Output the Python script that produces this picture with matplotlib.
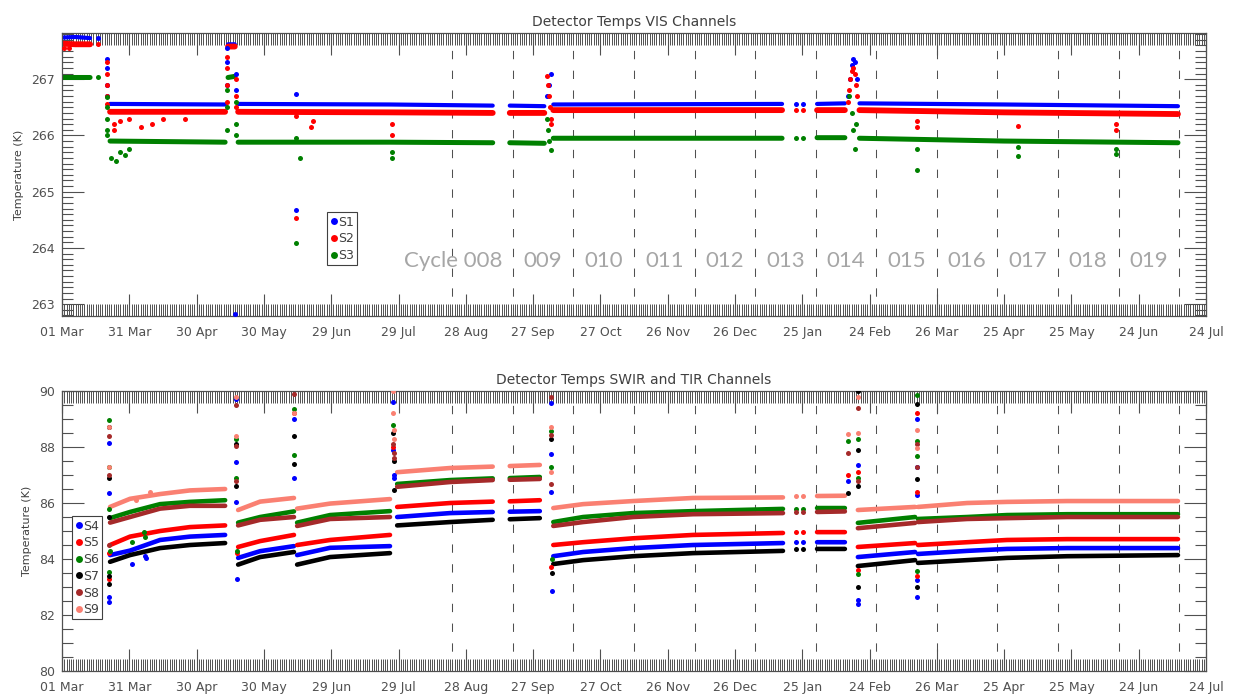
import numpy as np
import matplotlib
matplotlib.use('Agg')
import matplotlib.pyplot as plt
import matplotlib.dates as mdates
import matplotlib.ticker as mticker
from matplotlib.lines import Line2D

# days since 01 Mar 2016 ; NaN = data gap
START = np.datetime64('2016-03-01')
N = np.nan

# ---- VIS channels (K) ------------------------------------------------------
VIS_DAY = [0.4, 6, 12.5, N, 21.4, 72.7, N, 74, 77, N, 78.5, 146, 192, N, 199.6, 215, N,
           219, 321, N, 336.6, 349, N, 355.5, 420, 497.5]
S1_T = [267.74, 267.75, 267.73, N, 266.56, 266.55, N, 267.62, 267.62, N, 266.56, 266.55, 266.53, N,
        266.53, 266.52, N, 266.55, 266.56, N, 266.56, 266.57, N, 266.57, 266.55, 266.52]
S2_T = [267.63, 267.62, 267.62, N, 266.42, 266.42, N, 267.58, 267.58, N, 266.42, 266.41, 266.40, N,
        266.40, 266.40, N, 266.45, 266.45, N, 266.45, 266.45, N, 266.45, 266.41, 266.38]
S3_T = [267.03, 267.03, 267.03, N, 265.90, 265.88, N, 267.03, 267.05, N, 265.88, 265.88, 265.87, N,
        265.87, 265.86, N, 265.95, 265.95, N, 265.96, 265.96, N, 265.95, 265.90, 265.87]

# isolated points / transients
S1_SPK_DAY = [16, 20, 20, 20, 20, 73.5, 73.5, 73.5, 77.4, 77.6, 77, 104.3, 104.3, 216, 217, 218,
              327, 330.4, 350.5, 351.3, 352, 352.8, 353.5, 354.5]
S1_SPK_T = [267.74, 267.35, 267.2, 266.9, 266.7, 266.9, 267.3, 267.55, 267.1, 266.8, 262.82, 264.68,
            266.73, 266.7, 266.9, 267.1, 266.55, 266.55, 266.7, 267.0, 267.25, 267.35, 267.3, 267.0]
S2_SPK_DAY = [16, 1, 3, 20, 20, 20, 20, 20, 23, 23, 26, 30, 35, 40, 45, 55, 73.5, 73.5, 73.5, 73.5,
              77.6, 77.6, 77.6, 104.3, 104.3, 111, 112, 147, 147, 216, 216.5, 217, 217.5, 218, 218,
              327, 330.4, 350.5, 351, 351.5, 352, 352.8, 353.5, 354, 354.5, 381, 381, 426, 470, 470]
S2_SPK_T = [267.62, 267.55, 267.56, 267.3, 267.1, 266.9, 266.7, 266.55, 266.2, 266.1, 266.25, 266.3,
            266.15, 266.2, 266.3, 266.3, 266.6, 266.9, 267.2, 267.4, 267.0, 266.7, 266.5, 264.54,
            266.35, 266.15, 266.25, 266.0, 266.2, 267.05, 266.9, 266.7, 266.5, 266.3, 266.2,
            266.45, 266.45, 266.6, 266.8, 267.0, 267.15, 267.2, 267.1, 266.9, 266.7, 266.15, 266.25,
            266.17, 266.1, 266.2]
S3_SPK_DAY = [16, 20, 20, 20, 20, 20, 22, 24, 26, 28, 30, 73.5, 73.5, 73.5, 77.6, 77.6, 77.6,
              104.3, 104.3, 106, 147, 147, 216, 216.5, 217, 218, 327, 330.4, 351, 352, 352.8, 353.5,
              354, 381, 381, 426, 426, 470, 470]
S3_SPK_T = [267.03, 266.68, 266.5, 266.3, 266.1, 266.0, 265.6, 265.55, 265.7, 265.65, 265.75, 266.1,
            266.5, 266.8, 266.6, 266.2, 266.0, 264.09, 265.95, 265.6, 265.6, 265.7, 266.3, 266.1,
            265.9, 265.74, 265.95, 265.95, 266.7, 266.4, 266.1, 265.76, 266.2, 265.75, 265.39,
            265.63, 265.8, 265.67, 265.75]

# ---- SWIR / TIR channels (K) ----------------------------------------------
IR_DAY = [21.4, 30.3, 43.7, 57, 72.7, N, 78.5, 88.3, 103.4, N, 104.8, 119.5, 146.2, N,
          149.4, 173, 192, N, 199.6, 213, N, 219, 232.3, 254.6, 281.3, 321.4, N, 336.6, 349, N,
          354.8, 380.3, N, 381.6, 403.5, 421.3, 448.1, 497.5]
S4_T = [84.14, 84.3, 84.68, 84.8, 84.86, N, 84.04, 84.28, 84.46, N, 84.14, 84.4, 84.46, N,
        85.5, 85.64, 85.68, N, 85.69, 85.71, N, 84.1, 84.25, 84.39, 84.5, 84.57, N, 84.6, 84.6, N,
        84.07, 84.25, N, 84.18, 84.29, 84.36, 84.39, 84.39]
S5_T = [84.5, 84.8, 85.0, 85.14, 85.2, N, 84.43, 84.64, 84.86, N, 84.5, 84.68, 84.86, N,
        85.86, 86.0, 86.05, N, 86.06, 86.1, N, 84.5, 84.6, 84.74, 84.86, 84.93, N, 84.96, 84.96, N,
        84.43, 84.57, N, 84.5, 84.6, 84.68, 84.71, 84.71]
S6_T = [85.46, 85.68, 85.96, 86.04, 86.1, N, 85.3, 85.5, 85.7, N, 85.3, 85.57, 85.71, N,
        86.68, 86.82, 86.88, N, 86.89, 86.93, N, 85.32, 85.5, 85.64, 85.71, 85.79, N, 85.82, 85.82, N,
        85.29, 85.5, N, 85.43, 85.5, 85.57, 85.6, 85.6]
S7_T = [83.9, 84.14, 84.39, 84.5, 84.57, N, 83.8, 84.07, 84.25, N, 83.8, 84.07, 84.21, N,
        85.2, 85.32, 85.4, N, 85.42, 85.46, N, 83.82, 83.96, 84.1, 84.21, 84.29, N, 84.36, 84.36, N,
        83.75, 83.96, N, 83.86, 83.96, 84.04, 84.1, 84.14]
S8_T = [85.3, 85.5, 85.8, 85.9, 85.9, N, 85.2, 85.4, 85.5, N, 85.18, 85.43, 85.5, N,
        86.58, 86.75, 86.82, N, 86.83, 86.86, N, 85.18, 85.32, 85.5, 85.6, 85.64, N, 85.68, 85.7, N,
        85.1, 85.29, N, 85.32, 85.43, 85.46, 85.5, 85.5]
S9_T = [85.86, 86.15, 86.32, 86.45, 86.5, N, 85.75, 86.05, 86.18, N, 85.8, 85.98, 86.14, N,
        87.1, 87.25, 87.3, N, 87.32, 87.36, N, 85.82, 85.96, 86.07, 86.18, 86.2, N, 86.25, 86.26, N,
        85.75, 85.86, N, 85.86, 86.0, 86.04, 86.07, 86.07]

S4_SPK_DAY = [21, 21, 21, 21, 31, 37, 37.5, 77.6, 77.6, 77.6, 77.8, 103.2, 103.5, 147.6, 147.6,
              147.8, 148, 218, 218, 218, 218.5, 327, 330.4, 350.4, 354.8, 354.8, 354.8, 381.2,
              381.2, 381.2, 381.2, 381.2]
S4_SPK_T = [88.14, 86.36, 82.64, 82.46, 83.82, 84.1, 84.05, 89.7, 87.46, 86.04, 83.3, 89.0, 86.9,
            89.6, 87.9, 87.0, 86.9, 89.56, 87.75, 86.4, 82.86, 84.6, 84.6, 86.8, 87.36, 82.54, 82.4,
            89.0, 87.29, 86.29, 83.25, 82.64]
S5_SPK_DAY = [21, 21, 77.8, 103.2, 147.6, 218, 327, 330.4, 350.4, 354.8, 354.8, 381.2, 381.2, 381.2]
S5_SPK_T = [83.3, 84.2, 84.2, 89.2, 88.0, 83.7, 84.95, 84.95, 87.0, 87.1, 83.6, 89.2, 86.4, 83.4]
S6_SPK_DAY = [21, 21, 21, 21, 21.2, 36.7, 36.9, 31, 77.6, 77.6, 77.8, 103.5, 103.5, 147.6, 218,
              218, 218.5, 327, 330.4, 350.4, 354.8, 354.8, 354.8, 381.2, 381.2, 381.2, 381.2]
S6_SPK_T = [88.96, 87.3, 85.8, 83.54, 84.3, 84.96, 84.8, 84.6, 88.3, 86.9, 84.3, 89.36, 87.7, 88.8,
            88.57, 87.29, 84.0, 85.8, 85.8, 88.2, 88.3, 86.9, 83.46, 89.86, 88.2, 87.68, 83.57]
S7_SPK_DAY = [21, 21, 21, 21, 21, 77.6, 77.6, 103.3, 103.5, 147.6, 147.8, 148, 218, 218.5, 327,
              330.4, 350.4, 354.8, 354.8, 354.8, 354.8, 381.2, 381.2, 381.2]
S7_SPK_T = [88.7, 86.9, 85.5, 83.1, 83.4, 88.1, 86.6, 88.4, 87.4, 88.5, 87.5, 86.46, 88.28, 83.5,
            84.36, 84.36, 86.36, 90.0, 87.9, 86.6, 83.0, 89.54, 86.86, 83.0]
S8_SPK_DAY = [21, 21, 21, 77.6, 77.6, 77.6, 103.2, 147.6, 147.8, 148, 218, 218, 218, 327, 330.4,
              350.4, 354.8, 354.8, 381.2, 381.2]
S8_SPK_T = [88.4, 87.0, 84.5, 89.5, 88.05, 86.8, 89.9, 88.1, 87.8, 87.6, 89.8, 88.43, 86.68, 85.68,
            85.68, 87.8, 89.4, 86.8, 88.1, 87.3]
S9_SPK_DAY = [21, 21, 33, 39, 77.6, 77.6, 103.2, 147.6, 147.6, 147.8, 148.2, 218, 218, 327, 330.4,
              350.4, 354.8, 354.8, 381.2, 381.2]
S9_SPK_T = [88.7, 87.3, 86.1, 86.4, 89.8, 88.4, 89.2, 90.0, 89.2, 88.6, 88.3, 88.7, 87.1, 86.25,
            86.25, 88.46, 89.8, 88.5, 88.6, 87.96]

# cycle boundaries (days) and labels
CYCLE_DAY = [174, 201, 228, 255, 282, 309, 336, 363, 390, 417, 444, 471, 498]
CYCLE_LAB = ['Cycle 008', '009', '010', '011', '012', '013', '014', '015', '016', '017',
             '018', '019']

COL = {'S1': '#0000ff', 'S2': '#ff0000', 'S3': '#008000', 'S4': '#0000ff', 'S5': '#ff0000',
       'S6': '#008000', 'S7': '#000000', 'S8': '#a52a2a', 'S9': '#fa8072'}
GREY = '#505050'

x0 = mdates.date2num(START)


def dnum(days):
    return x0 + np.asarray(days, dtype=float)


def style(ax, ylim, ymaj, ymin, title):
    ax.set_xlim(x0, x0 + 510)
    ax.set_ylim(*ylim)
    ax.xaxis.set_major_locator(mticker.FixedLocator(x0 + np.arange(0, 511, 30)))
    ax.xaxis.set_minor_locator(mticker.MultipleLocator(1))
    ax.xaxis.set_major_formatter(mdates.DateFormatter('%d %b'))
    ax.yaxis.set_major_locator(mticker.MultipleLocator(ymaj))
    ax.yaxis.set_minor_locator(mticker.MultipleLocator(ymin))
    ax.yaxis.set_major_formatter(mticker.FormatStrFormatter('%d'))
    ax.tick_params(which='both', direction='in', top=True, right=True, color=GREY,
                   labelcolor=GREY, labelsize=9, width=0.8)
    ax.tick_params(axis='x', which='major', length=16, pad=7)
    ax.tick_params(axis='x', which='minor', length=8.5, width=0.7)
    ax.tick_params(axis='y', which='major', length=16, pad=5)
    ax.tick_params(axis='y', which='minor', length=8)
    for s in ax.spines.values():
        s.set_color(GREY)
        s.set_linewidth(0.9)
    ax.set_title(title, fontsize=10, color='#404040', pad=5)
    ax.set_ylabel('Temperature (K)', fontsize=8, color='#404040', labelpad=5)
    for d in CYCLE_DAY:
        ax.axvline(dnum(d), color=GREY, lw=0.75, ls=(0, (8, 11)), zorder=1)


fig = plt.figure(figsize=(12.41, 6.97), dpi=100)
ax1 = fig.add_axes([0.0500, 0.5466, 0.9218, 0.4060])
ax2 = fig.add_axes([0.0500, 0.0373, 0.9218, 0.4017])

# top panel
style(ax1, (262.79, 267.82), 1, 0.1, 'Detector Temps VIS Channels')
for name, t, sd, st, lw in [('S1', S1_T, S1_SPK_DAY, S1_SPK_T, 3.0),
                            ('S2', S2_T, S2_SPK_DAY, S2_SPK_T, 4.2),
                            ('S3', S3_T, S3_SPK_DAY, S3_SPK_T, 3.6)]:
    ax1.plot(dnum(VIS_DAY), t, color=COL[name], lw=lw, solid_capstyle='round', zorder=2)
    ax1.plot(dnum(sd), st, 'o', ms=3.6, mec='none', color=COL[name], zorder=3)

for i, lab in enumerate(CYCLE_LAB):
    mid = dnum((CYCLE_DAY[i] + CYCLE_DAY[i + 1]) / 2)
    if i == 0:
        ax1.annotate(lab, xy=(mid, 263.76), xytext=(14, 0), textcoords='offset points',
                     ha='right', va='center', fontsize=16, color='#a6a6a6', family='Lato')
    else:
        ax1.text(mid, 263.76, lab, ha='center', va='center', fontsize=16, color='#a6a6a6',
                 family='Lato')

h1 = [Line2D([], [], ls='none', marker='o', ms=5, mec='none', color=COL[n]) for n in ['S1', 'S2', 'S3']]
ax1.legend(h1, ['S1', 'S2', 'S3'], loc='upper left', bbox_to_anchor=(0.232, 0.366),
           handlelength=0.5, handletextpad=0.1, borderpad=0.25, borderaxespad=0,
           labelspacing=0.3, fontsize=9, fancybox=False, framealpha=1,
           edgecolor='#404040', labelcolor='#404040').get_frame().set_linewidth(0.8)

# bottom panel
style(ax2, (80, 90), 2, 0.5, 'Detector Temps SWIR and TIR Channels')
for name, t, sd, st in [('S4', S4_T, S4_SPK_DAY, S4_SPK_T), ('S5', S5_T, S5_SPK_DAY, S5_SPK_T),
                        ('S6', S6_T, S6_SPK_DAY, S6_SPK_T), ('S7', S7_T, S7_SPK_DAY, S7_SPK_T),
                        ('S8', S8_T, S8_SPK_DAY, S8_SPK_T), ('S9', S9_T, S9_SPK_DAY, S9_SPK_T)]:
    ax2.plot(dnum(IR_DAY), t, color=COL[name], lw=3.3, solid_capstyle='round', zorder=2)
    ax2.plot(dnum(sd), st, 'o', ms=3.6, mec='none', color=COL[name], zorder=3)

names2 = ['S4', 'S5', 'S6', 'S7', 'S8', 'S9']
h2 = [Line2D([], [], ls='none', marker='o', ms=5, mec='none', color=COL[n]) for n in names2]
ax2.legend(h2, names2, loc='upper left', bbox_to_anchor=(0.009, 0.552),
           handlelength=0.5, handletextpad=0.1, borderpad=0.25, borderaxespad=0,
           labelspacing=0.3, fontsize=9, fancybox=False, framealpha=1,
           edgecolor='#404040', labelcolor='#404040').get_frame().set_linewidth(0.8)

fig.savefig('out.png', dpi=100)
